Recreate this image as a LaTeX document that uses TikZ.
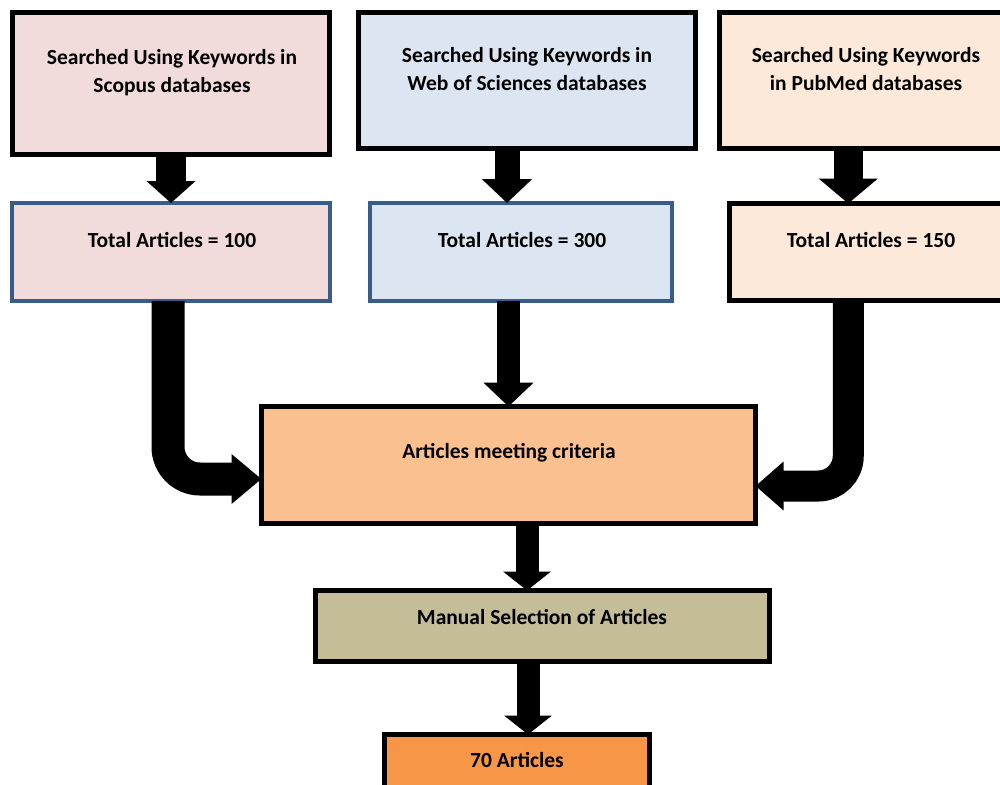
\documentclass[tikz,border=0pt]{standalone}
\usepackage{fontspec}
\setmainfont{Carlito}
\usetikzlibrary{arrows.meta,calc}
\definecolor{cScopus}{HTML}{F2DCDB}
\definecolor{cWos}{HTML}{DCE6F2}
\definecolor{cPub}{HTML}{FDE9D9}
\definecolor{cMid}{HTML}{FAC090}
\definecolor{cMan}{HTML}{C4BD97}
\definecolor{cFin}{HTML}{F79646}
\definecolor{cBlue}{HTML}{385D8A}
\tikzset{
  boxb/.style={draw=black, line width=5pt, rectangle, inner sep=0pt, outer sep=0pt},
  boxbl/.style={draw=cBlue, line width=4pt, rectangle, inner sep=0pt, outer sep=0pt},
  lbl/.style={inner sep=0pt, align=center, font=\fontsize{21.5}{28}\selectfont\bfseries},
  fat/.style args={#1/#2/#3}{draw=black, line width=#1, -{Triangle[width=#2,length=#3]}},
}
\begin{document}
\begin{tikzpicture}[x=1pt,y=-1pt]
\useasboundingbox (0,0) rectangle (1000,784);
% boxes
\node[boxb, fill=cScopus, minimum width=317pt, minimum height=142pt] (S1) at (171,83.5) {};
\node[boxb, fill=cWos, minimum width=337pt, minimum height=136pt] (S2) at (527,80.5) {};
\node[boxb, fill=cPub, minimum width=285.5pt, minimum height=136pt] (S3) at (862.25,80.5) {};
\node[boxbl, fill=cScopus, minimum width=318pt, minimum height=98pt] (T1) at (171,252) {};
\node[boxbl, fill=cWos, minimum width=302pt, minimum height=98pt] (T2) at (521,252) {};
\node[boxb, fill=cPub, minimum width=275.5pt, minimum height=97pt] (T3) at (867.25,252) {};
\node[boxb, fill=cMid, minimum width=494pt, minimum height=117pt] (M) at (508.5,465) {};
\node[boxb, fill=cMan, minimum width=454pt, minimum height=71pt] (MS) at (542.5,626) {};
\node[boxb, fill=cFin, minimum width=265pt, minimum height=56pt] (F) at (517,762.5) {};
% texts
\node[lbl] (tS1) at (172,72.5) {Searched Using Keywords in\\Scopus databases};
\node[lbl] (tS2) at (527,69.5) {Searched Using Keywords in\\Web of Sciences databases};
\node[lbl] (tS3) at (866,69.5) {Searched Using Keywords\\in PubMed databases};
\node[lbl] (tT1) at (172,240) {Total Articles = 100};
\node[lbl] (tT2) at (522,240) {Total Articles = 300};
\node[lbl] (tT3) at (871,240) {Total Articles = 150};
\node[lbl] (tM) at (509,453) {Articles meeting criteria};
\node[lbl] (tMS) at (542,617) {Manual Selection of Articles};
\node[lbl] (tF) at (517,760) {70 Articles};
% arrows
\draw[fat=30pt/48pt/22pt] (S1.south) -- (T1.north);
\draw[fat=25pt/49pt/24pt] ([xshift=-14pt]T2.north |- S2.south) -- ([xshift=-14pt]T2.north);
\draw[fat=29pt/58pt/25pt] ([xshift=-19pt]T3.north |- S3.south) -- ([xshift=-19pt]T3.north);
\draw[fat=23pt/49pt/24pt] (M.north |- T2.south) -- (M.north);
\draw[fat=23pt/47pt/19pt] ([xshift=-15.5pt]MS.north |- M.south) -- ([xshift=-15.5pt]MS.north);
\draw[fat=23pt/47pt/19pt] ([xshift=11pt]F.north |- MS.south) -- ([xshift=11pt]F.north);
\draw[fat=33pt/48pt/30pt, rounded corners=32pt] ([xshift=-3pt]T1.south) |- ([yshift=-14pt]M.west);
\draw[fat=31pt/47pt/28pt, rounded corners=30pt] ([xshift=-19pt]T3.south) |- ([yshift=-21pt]M.east);
\end{tikzpicture}
\end{document}
